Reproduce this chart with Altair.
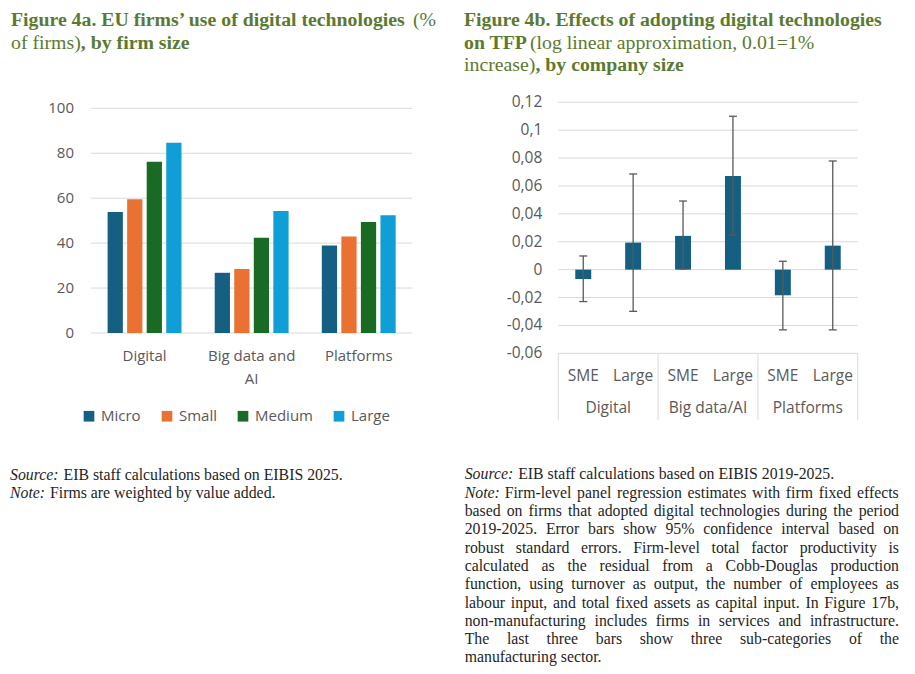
import altair as alt
import pandas as pd

# ---------------- Figure 4a data ----------------
categories_a = ["Digital", "Big data and AI", "Platforms"]
category_labels_a = ["Digital", "Big data and\nAI", "Platforms"]
sizes_a = ["Micro", "Small", "Medium", "Large"]
micro_a = [53.8, 26.8, 38.9]
small_a = [59.5, 28.5, 42.9]
medium_a = [76.2, 42.4, 49.4]
large_a = [84.7, 54.3, 52.4]
ticks_a = [0, 20, 40, 60, 80, 100]
tick_labels_a = ["0", "20", "40", "60", "80", "100"]
colors_a = ["#156082", "#E97132", "#196B24", "#0F9ED5"]

# ---------------- Figure 4b data ----------------
groups_b = ["Digital", "Big data/AI", "Platforms"]
sizes_b = ["SME", "Large"]
coef_sme_b = [-0.0067, 0.0242, -0.0184]
coef_large_b = [0.0194, 0.0672, 0.0172]
low_sme_b = [-0.0229, 0.0005, -0.0432]
high_sme_b = [0.0098, 0.0492, 0.0060]
low_large_b = [-0.0299, 0.0249, -0.0432]
high_large_b = [0.0686, 0.1100, 0.0779]
ticks_b = [-0.06, -0.04, -0.02, 0, 0.02, 0.04, 0.06, 0.08, 0.1, 0.12]
tick_labels_b = ["-0,06", "-0,04", "-0,02", "0", "0,02", "0,04", "0,06", "0,08", "0,1", "0,12"]

# ---------------- texts ----------------
source_a = "EIB staff calculations based on EIBIS 2025."
note_a = "Firms are weighted by value added."
source_b = "EIB staff calculations based on EIBIS 2019-2025."
note_b_first = "Firm-level panel regression estimates with firm fixed effects"
note_b_lines = [
    "based on firms that adopted digital technologies during the period",
    "2019-2025. Error bars show 95% confidence interval based on",
    "robust standard errors. Firm-level total factor productivity is",
    "calculated as the residual from a Cobb-Douglas production",
    "function, using turnover as output, the number of employees as",
    "labour input, and total fixed assets as capital input. In Figure 17b,",
    "non-manufacturing includes firms in services and infrastructure.",
    "The last three bars show three sub-categories of the",
    "manufacturing sector.",
]

# ---------------- styles ----------------
SANS = "Open Sans"
SERIF = "Liberation Serif"
GRAY = "#595959"
GRID = "#d9d9d9"
TITLE = "#5b7a2f"
TXT = "#1f1f1f"
NOTE_SIZE = 15.8
TITLE_SIZE = 19.8

A_X = [83, 404.3]
A_Y = [325, 100.3]
B_X = [550.3, 849.7]
B_Y = [345.3, 94.3]

# ---------------- data frames ----------------
rows_a = []
for i, c in enumerate(categories_a):
    for s, vals in zip(sizes_a, [micro_a, small_a, medium_a, large_a]):
        rows_a.append({"cat": c, "size": s, "value": vals[i]})
df_a = pd.DataFrame(rows_a)
df_a_cat = pd.DataFrame({"cat": categories_a, "label": category_labels_a})
df_a_ticks = pd.DataFrame({"tick": ticks_a, "label": tick_labels_a})

rows_b = []
for i, g in enumerate(groups_b):
    rows_b.append({"grp": g, "size": "SME", "coef": coef_sme_b[i], "low": low_sme_b[i], "high": high_sme_b[i]})
    rows_b.append({"grp": g, "size": "Large", "coef": coef_large_b[i], "low": low_large_b[i], "high": high_large_b[i]})
df_b = pd.DataFrame(rows_b)
df_b_grp = pd.DataFrame({"grp": groups_b})
df_b_end = pd.DataFrame({"grp": groups_b[-1:]})
df_b_ticks = pd.DataFrame({"tick": ticks_b, "label": tick_labels_b})

ONE = pd.DataFrame({"k": [0]})

# ---------------- left chart ----------------
xa = alt.X("cat:N", sort=categories_a, axis=None,
           scale=alt.Scale(range=A_X, paddingInner=0.27, paddingOuter=0.135))
ya_scale = alt.Scale(domain=[0, 100], range=A_Y, nice=False)
xoa = alt.XOffset("size:N", sort=sizes_a, scale=alt.Scale(paddingInner=0.22, paddingOuter=0.11))

grid_a = alt.Chart(df_a_ticks).mark_rule(color=GRID, strokeWidth=1).encode(
    y=alt.Y("tick:Q", scale=ya_scale, axis=None),
    x=alt.value(A_X[0]), x2=alt.value(A_X[1]))
ylab_a = alt.Chart(df_a_ticks).mark_text(
    align="right", baseline="middle", font=SANS, fontSize=15, color=GRAY).encode(
    y=alt.Y("tick:Q", scale=ya_scale, axis=None), x=alt.value(66), text="label:N")
bars_a = alt.Chart(df_a).mark_bar().encode(
    x=xa, xOffset=xoa,
    y=alt.Y("value:Q", scale=ya_scale, axis=None),
    color=alt.Color("size:N", sort=sizes_a,
                    scale=alt.Scale(domain=sizes_a, range=colors_a),
                    legend=alt.Legend(orient="none", legendX=73.5, legendY=400.5,
                                      direction="horizontal", title=None,
                                      symbolType="square", symbolSize=114,
                                      symbolStrokeWidth=0, labelFont=SANS,
                                      labelFontSize=15, labelColor=GRAY,
                                      labelOffset=4.5, columnPadding=18, padding=0)))
catlab_a = alt.Chart(df_a_cat).mark_text(
    align="center", baseline="top", lineBreak="\n", lineHeight=22.5,
    font=SANS, fontSize=15, color=GRAY).encode(
    x=xa, y=alt.value(341.3), text="label:N")
left = alt.layer(grid_a, bars_a, ylab_a, catlab_a)

# ---------------- right chart ----------------
xb = alt.X("grp:N", sort=groups_b, axis=None,
           scale=alt.Scale(range=B_X, paddingInner=0, paddingOuter=0))
xb0 = alt.X("grp:N", sort=groups_b, axis=None, bandPosition=0,
            scale=alt.Scale(range=B_X, paddingInner=0, paddingOuter=0))
xb1 = alt.X("grp:N", sort=groups_b, axis=None, bandPosition=1,
            scale=alt.Scale(range=B_X, paddingInner=0, paddingOuter=0))
yb_scale = alt.Scale(domain=[-0.06, 0.12], range=B_Y, nice=False, zero=False)
xob = alt.XOffset("size:N", sort=sizes_b, scale=alt.Scale(paddingInner=0.68, paddingOuter=0.34))

grid_b = alt.Chart(df_b_ticks).mark_rule(color=GRID, strokeWidth=1).encode(
    y=alt.Y("tick:Q", scale=yb_scale, axis=None),
    x=alt.value(B_X[0]), x2=alt.value(B_X[1]))
ylab_b = alt.Chart(df_b_ticks).mark_text(
    align="right", baseline="middle", font=SANS, fontSize=15.5, color=GRAY).encode(
    y=alt.Y("tick:Q", scale=yb_scale, axis=None), x=alt.value(534.3), text="label:N")
sep_b = alt.Chart(df_b_grp).mark_rule(color=GRID, strokeWidth=1).encode(
    x=xb0, y=alt.value(345.3), y2=alt.value(412))
sep_end_b = alt.Chart(df_b_end).mark_rule(color=GRID, strokeWidth=1).encode(
    x=xb1, y=alt.value(345.3), y2=alt.value(412))
bars_b = alt.Chart(df_b).mark_bar(color="#156082").encode(
    x=xb, xOffset=xob,
    y=alt.Y("coef:Q", scale=yb_scale, axis=None), y2=alt.datum(0))
err_b = alt.Chart(df_b).mark_rule(color=GRAY, strokeWidth=1.3).encode(
    x=xb, xOffset=xob,
    y=alt.Y("low:Q", scale=yb_scale, axis=None), y2="high:Q")
cap_lo_b = alt.Chart(df_b).mark_point(shape="stroke", size=64, color=GRAY,
                                      strokeWidth=1.3, filled=False, opacity=1).encode(
    x=xb, xOffset=xob, y=alt.Y("low:Q", scale=yb_scale, axis=None))
cap_hi_b = alt.Chart(df_b).mark_point(shape="stroke", size=64, color=GRAY,
                                      strokeWidth=1.3, filled=False, opacity=1).encode(
    x=xb, xOffset=xob, y=alt.Y("high:Q", scale=yb_scale, axis=None))
sizelab_b = alt.Chart(df_b).mark_text(
    align="center", baseline="middle", font=SANS, fontSize=15.5, color=GRAY).encode(
    x=xb, xOffset=xob, y=alt.value(367.7), text="size:N")
grplab_b = alt.Chart(df_b_grp).mark_text(
    align="center", baseline="middle", font=SANS, fontSize=15.5, color=GRAY).encode(
    x=xb, y=alt.value(400.3), text="grp:N")
right = alt.layer(grid_b, sep_b, sep_end_b, bars_b, err_b, cap_lo_b, cap_hi_b,
                  ylab_b, sizelab_b, grplab_b)

# ---------------- free text ----------------
def label(text, x, y, size, font=SERIF, weight="normal", style="normal",
          color=TXT, align="left"):
    return alt.Chart(ONE).mark_text(
        align=align, baseline="middle", font=font, fontSize=size,
        fontWeight=weight, fontStyle=style, color=color).encode(
        x=alt.value(x), y=alt.value(y), text=alt.value(text))

# Times / Liberation Serif advance widths (1/1000 em)
W = {" ": 250, "!": 333, "%": 833, "'": 333, "(": 333, ")": 333, ",": 250, "-": 333,
     ".": 250, ":": 278, "=": 564, "/": 278,
     "A": 722, "B": 667, "C": 667, "D": 722, "E": 611, "F": 556, "G": 722, "H": 722,
     "I": 333, "J": 389, "K": 722, "L": 611, "M": 889, "N": 722, "O": 722, "P": 556,
     "Q": 722, "R": 667, "S": 556, "T": 611, "U": 722, "V": 722, "W": 944, "X": 722,
     "Y": 722, "Z": 611,
     "a": 444, "b": 500, "c": 444, "d": 500, "e": 444, "f": 333, "g": 500, "h": 500,
     "i": 278, "j": 278, "k": 500, "l": 278, "m": 778, "n": 500, "o": 500, "p": 500,
     "q": 500, "r": 333, "s": 389, "t": 278, "u": 500, "v": 500, "w": 722, "x": 500,
     "y": 500, "z": 444}
for d in "0123456789":
    W[d] = 500


def text_width(s, size):
    return sum(W.get(ch, 500) for ch in s) * size / 1000.0


def justified(line, x0, x1, y, size=NOTE_SIZE):
    words = line.split(" ")
    total = sum(text_width(w, size) for w in words)
    gap = (x1 - x0 - total) / (len(words) - 1)
    out = []
    x = x0
    for w in words:
        out.append(label(w, x, y, size))
        x += text_width(w, size) + gap
    return out


T1, T2, T3 = 12, 34.8, 57
texts = []
# titles (left)
texts.append(label("Figure 4a. EU firms\u2019 use of digital technologies", 3, T1, TITLE_SIZE,
                   weight="bold", color=TITLE))
texts.append(label("(%", 405, T1, TITLE_SIZE, color=TITLE))
texts.append(label("of firms)", 3, T2, TITLE_SIZE, color=TITLE))
texts.append(label(", by firm size", 3 + text_width("of firms)", TITLE_SIZE), T2, TITLE_SIZE,
                   weight="bold", color=TITLE))
# titles (right)
texts.append(label("Figure 4b. Effects of adopting digital technologies", 456, T1, TITLE_SIZE,
                   weight="bold", color=TITLE))
texts.append(label("on TFP", 456, T2, TITLE_SIZE, weight="bold", color=TITLE))
texts.append(label("(log linear approximation, 0.01=1%", 522, T2, TITLE_SIZE, color=TITLE))
texts.append(label("increase)", 456, T3, TITLE_SIZE, color=TITLE))
texts.append(label(", by company size", 456 + text_width("increase)", TITLE_SIZE), T3, TITLE_SIZE,
                   weight="bold", color=TITLE))

# notes (left)
LX0 = 2
texts.append(label("Source:", LX0, 467, NOTE_SIZE, style="italic"))
texts.append(label(source_a, LX0 + 53.5, 467, NOTE_SIZE))
texts.append(label("Note:", LX0, 484.5, NOTE_SIZE, style="italic"))
texts.append(label(note_a, LX0 + 40, 484.5, NOTE_SIZE))
# notes (right)
RX0, RX1 = 456.7, 891
texts.append(label("Source:", RX0, 466.3, NOTE_SIZE, style="italic"))
texts.append(label(source_b, RX0 + 53.5, 466.3, NOTE_SIZE))
texts.append(label("Note:", RX0, 484.5, NOTE_SIZE, style="italic"))
texts += justified(note_b_first, RX0 + 40, RX1, 484.5)
for k, ln in enumerate(note_b_lines):
    yy = 503 + 18.3 * k
    if k < len(note_b_lines) - 1:
        texts += justified(ln, RX0, RX1, yy)
    else:
        texts.append(label(ln, RX0, yy, NOTE_SIZE))

chart = alt.layer(left, right, *texts).resolve_scale(
    x="independent", y="independent", xOffset="independent", color="independent"
).properties(
    width=899, height=658,
    autosize=alt.AutoSizeParams(type="none"),
    padding=0, background="white"
).configure_view(stroke=None)

chart.save("out.html", embed_options={"renderer": "svg", "actions": False})
